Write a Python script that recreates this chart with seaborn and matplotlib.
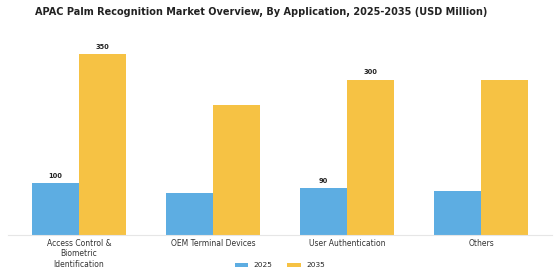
import pandas as pd
import matplotlib
matplotlib.use('Agg')
import matplotlib.pyplot as plt
import seaborn as sns

# data
categories = ['Access Control &\nBiometric\nIdentification', 'OEM Terminal Devices',
              'User Authentication', 'Others']
years = ['2025', '2035']
values_2025 = [100, 80, 90, 85]
values_2035 = [350, 250, 300, 300]
# only some bars carry a value label in the original
labels_2025 = ['100', '', '90', '']
labels_2035 = ['350', '', '300', '']

colors = ['#5DADE2', '#F6C244']

df = pd.DataFrame({
    'Application': categories * 2,
    'Year': [years[0]] * 4 + [years[1]] * 4,
    'Value': values_2025 + values_2035,
})

sns.set_theme(style='white')
plt.rcParams['font.family'] = ['DejaVu Sans']

fig = plt.figure(figsize=(5.6, 2.8), dpi=100)
ax = fig.add_axes([0.014, 0.1625, 0.972, 0.71])

sns.barplot(data=df, x='Application', y='Value', hue='Year', palette=colors,
            width=0.7, saturation=1, linewidth=0, ax=ax, legend=True)

for cont, labs in zip(ax.containers, [labels_2025, labels_2035]):
    ax.bar_label(cont, labels=labs, padding=3, fontsize=4.8, fontweight='bold', color='#222222')

ax.set_xlim(-0.53, 3.53)
ax.set_ylim(0, 385)
ax.set_xlabel('')
ax.set_ylabel('')
ax.set_yticks([])
for s in ['top', 'right', 'left']:
    ax.spines[s].set_visible(False)
ax.spines['bottom'].set_color('#e6e6e6')
ax.spines['bottom'].set_linewidth(0.8)
ax.tick_params(axis='x', labelsize=5.5, colors='#333333', length=0, pad=3)
for t in ax.get_xticklabels():
    t.set_linespacing(1.25)

ax.legend(loc='center', bbox_to_anchor=(0.5, -0.155), ncol=2, frameon=False,
          fontsize=5.3, handlelength=1.8, handleheight=0.5, columnspacing=2.0)

fig.suptitle('APAC Palm Recognition Market Overview, By Application, 2025-2035 (USD Million)',
             fontsize=7, fontweight='bold', x=0.466, y=0.975, color='#222222')

fig.savefig('out.png', dpi=100)
